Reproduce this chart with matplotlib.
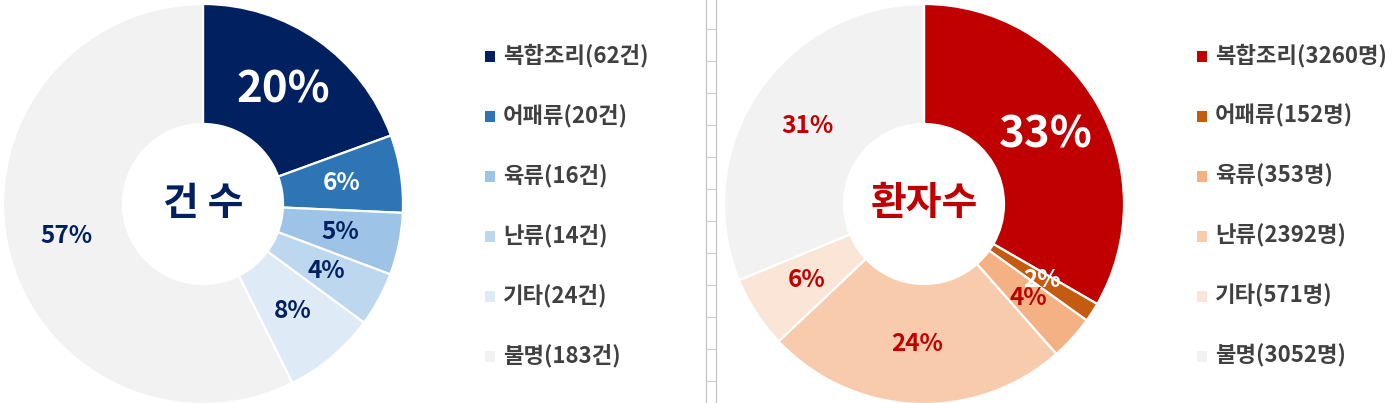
import numpy as np
import matplotlib
matplotlib.use('Agg')
import matplotlib.pyplot as plt
from matplotlib.patches import Rectangle

plt.rcParams['font.family'] = ['Noto Sans CJK KR', 'DejaVu Sans']

# 건수 (cases)
case_names = ['복합조리', '어패류', '육류', '난류', '기타', '불명']
case_counts = [62, 20, 16, 14, 24, 183]
case_pcts = ['20%', '6%', '5%', '4%', '8%', '57%']
case_colors = ['#002060', '#2E75B6', '#9DC3E6', '#BDD7EE', '#DEEBF7', '#F2F2F2']
case_text = ['white', 'white', '#002060', '#002060', '#002060', '#002060']

# 환자수 (patients)
pat_names = ['복합조리', '어패류', '육류', '난류', '기타', '불명']
pat_counts = [3260, 152, 353, 2392, 571, 3052]
pat_pcts = ['33%', '2%', '4%', '24%', '6%', '31%']
pat_colors = ['#C00000', '#C55A11', '#F4B183', '#F8CBAD', '#FBE5D6', '#F2F2F2']
pat_text = ['white', 'white', '#C00000', '#C00000', '#C00000', '#C00000']

W, H = 1394, 403
fig = plt.figure(figsize=(W / 100, H / 100), dpi=100)
ax = fig.add_axes([0, 0, 1, 1])


def donut(cx, cy, r, counts, pcts, colors, tcolors, title, title_color):
    wedges, _ = ax.pie(counts, colors=colors, startangle=90, counterclock=False,
                       center=(cx, cy), radius=r,
                       wedgeprops=dict(width=r * 0.6, edgecolor='white', linewidth=1.6))
    for i, w in enumerate(wedges):
        mid = np.deg2rad((w.theta1 + w.theta2) / 2)
        big = i == 0
        ax.text(cx + 0.7 * r * np.cos(mid), cy + 0.7 * r * np.sin(mid), pcts[i],
                ha='center', va='center', color=tcolors[i],
                fontsize=31.5 if big else 17.5, fontweight='bold')
    ax.text(cx, cy, title, ha='center', va='center', color=title_color,
            fontsize=28, fontweight='bold')
    return wedges


def legend(x, names, counts, unit, colors):
    for i, (n, c) in enumerate(zip(names, counts)):
        y = H - 56 - 60 * i
        ax.add_patch(Rectangle((x - 5, y - 5.5), 10, 11, facecolor=colors[i],
                               edgecolor='none'))
        ax.text(x + 13, y, f'{n}({c}{unit})', ha='left', va='center',
                color='#404040', fontsize=16, fontweight='bold')


donut(203, H - 204, 200, case_counts, case_pcts, case_colors, case_text,
      '건 수', '#002060')
donut(924, H - 204, 200, pat_counts, pat_pcts, pat_colors, pat_text,
      '환자수', '#C00000')
legend(490, case_names, case_counts, '건', case_colors)
legend(1202, pat_names, pat_counts, '명', pat_colors)

# faint spreadsheet gridlines between the two charts
ax.plot([706, 706], [0, H], color='#BFBFBF', lw=0.8)
ax.plot([716, 716], [0, H], color='#BFBFBF', lw=0.8)
for k in range(12):
    yy = H - 29 - 32 * k
    ax.plot([706, 716], [yy, yy], color='#D0D0D0', lw=0.8)

ax.set_xlim(0, W)
ax.set_ylim(0, H)
ax.set_aspect('auto')
ax.axis('off')

fig.savefig('out.png', dpi=100, facecolor='white')
